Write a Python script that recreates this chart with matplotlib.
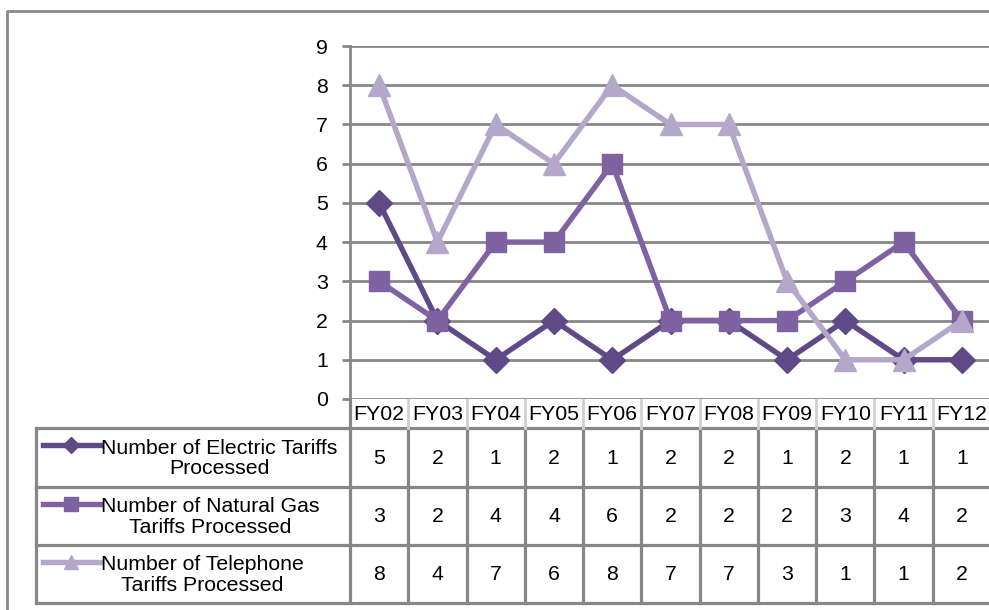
import matplotlib
matplotlib.use("Agg")
import matplotlib.pyplot as plt
from matplotlib.transforms import blended_transform_factory

plt.rcParams['font.family'] = ['Liberation Sans', 'DejaVu Sans']

categories = ["FY02", "FY03", "FY04", "FY05", "FY06", "FY07", "FY08", "FY09", "FY10", "FY11", "FY12"]
electric = [5, 2, 1, 2, 1, 2, 2, 1, 2, 1, 1]
gas = [3, 2, 4, 4, 6, 2, 2, 2, 3, 4, 2]
telephone = [8, 4, 7, 6, 8, 7, 7, 3, 1, 1, 2]
series_names = ["Number of Electric Tariffs\nProcessed",
                "Number of Natural Gas\nTariffs Processed",
                "Number of Telephone\nTariffs Processed"]
y_ticks = list(range(0, 10))

colors = ["#5f4a87", "#7f62a1", "#b4a7c9"]
markers = ["D", "s", "^"]
msizes = [13, 15, 16]
GRID = "#878787"
FS = 15.3

W, H = 989, 610
fig = plt.figure(figsize=(W / 100, H / 100), dpi=100)

ov = fig.add_axes([0, 0, 1, 1], zorder=0)
ov.set_xlim(0, W)
ov.set_ylim(H, 0)
ov.axis('off')

ax = fig.add_axes([350 / W, (H - 399) / H, 641 / W, 353 / H], zorder=1)
ax.patch.set_alpha(0)
ax.set_xlim(-0.5, len(categories) - 0.5)
ax.set_ylim(0, 9)
ax.set_yticks(y_ticks)
ax.set_yticklabels([str(t) for t in y_ticks], fontsize=FS)
ax.set_xticks([])
for s in ["top", "right", "bottom"]:
    ax.spines[s].set_visible(False)
ax.spines["left"].set_color(GRID)
ax.spines["left"].set_linewidth(2)
ax.tick_params(axis='y', length=6, width=2, color=GRID, pad=10)
for t in y_ticks:
    ax.axhline(t, color=GRID, lw=2, zorder=1)

xs = list(range(len(categories)))
data = [electric, gas, telephone]
for vals, c, m, ms in zip(data, colors, markers, msizes):
    ax.plot(xs, vals, color=c, lw=3.9, marker=m, markersize=ms,
            markeredgecolor=c, zorder=3, clip_on=False)

# outer chart border
ov.plot([7, 7, W + 5], [H + 5, 11, 11], color="#8a8a8a", lw=2)

# data table
trans = blended_transform_factory(ax.transData, ov.transData)
row_tops = [428, 487, 545, 603]
for y in row_tops:
    ov.plot([36, W + 5], [y, y], color=GRID, lw=2.3, zorder=2)
ov.plot([36, 36], [428, 603], color=GRID, lw=2.3, zorder=2)
for i in range(len(categories) + 1):
    x = i - 0.5
    ov.plot([x, x], [428, 603], color=GRID, lw=2.3, transform=trans, zorder=2)
    if i == 0:
        ov.plot([x, x], [399, 428], color=GRID, lw=2.3, transform=trans, zorder=2)
    else:
        ov.plot([x, x], [400, 428], color="#d0d0d0", lw=2, transform=trans, zorder=2)

for i, cat in enumerate(categories):
    ov.text(i, 414, cat, transform=trans, ha='center', va='center', fontsize=FS)

for r, vals in enumerate(data):
    yc = (row_tops[r] + row_tops[r + 1]) / 2
    for i, v in enumerate(vals):
        ov.text(i, yc + 1, str(v), transform=trans, ha='center', va='center', fontsize=FS)
    ky = row_tops[r] + 17
    ov.plot([43, 100], [ky, ky], color=colors[r], lw=3.9, zorder=3)
    ov.plot([71], [ky], color=colors[r], marker=markers[r], markersize=msizes[r] * 0.65,
            markeredgecolor=colors[r], zorder=3)
    ov.text(101, yc + 1, series_names[r], ha='left', va='center', fontsize=FS,
            linespacing=1.1, multialignment='center')

fig.savefig("out.png", dpi=100)
